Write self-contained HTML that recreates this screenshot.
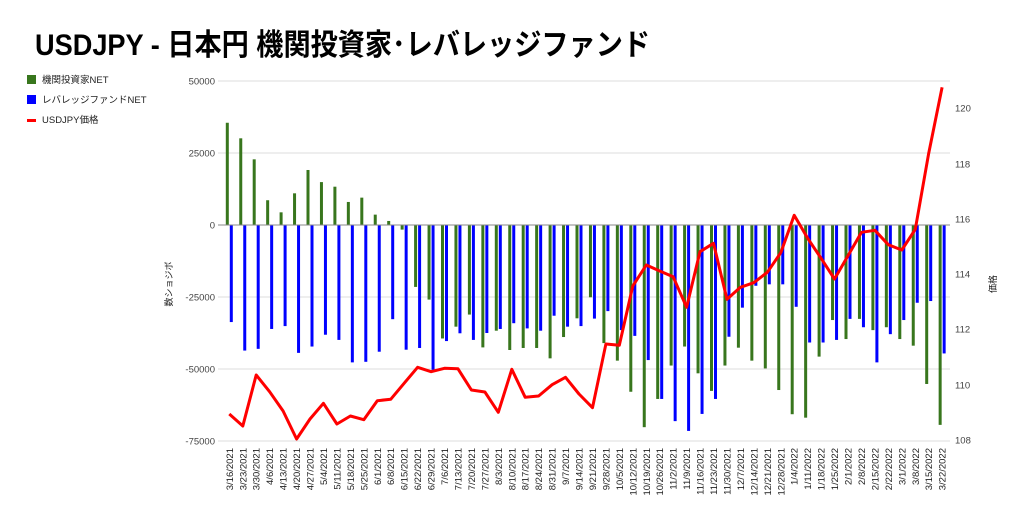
<!DOCTYPE html>
<html><head><meta charset="utf-8"><style>
html,body{margin:0;padding:0;background:#fff;}
svg{display:block;}
text{font-family:"Liberation Sans","Noto Sans CJK JP",sans-serif;}
</style></head><body>
<svg id="c" width="1024" height="521" viewBox="0 0 1024 521" xmlns="http://www.w3.org/2000/svg">
<rect width="1024" height="521" fill="#fff"/>
<text x="35" y="55" font-size="30" font-weight="bold" fill="#000" textLength="615" lengthAdjust="spacingAndGlyphs">USDJPY - 日本円 機関投資家･レバレッジファンド</text>
<rect x="27" y="75" width="9" height="9" fill="#38761d"/>
<text x="42" y="83" font-size="9.5" fill="#222">機関投資家NET</text>
<rect x="27" y="95" width="9" height="9" fill="#0000ff"/>
<text x="42" y="103" font-size="9.5" fill="#222">レバレッジファンドNET</text>
<rect x="27" y="119" width="9" height="3" fill="#ff0000"/>
<text x="42" y="123" font-size="9.5" fill="#222">USDJPY価格</text>
<g id="grid"></g>
<g id="bars"></g>
<line x1="218" y1="225" x2="950" y2="225" stroke="#888" stroke-width="1"/>
<polyline id="red" fill="none" stroke="#ff0000" stroke-width="3" stroke-linejoin="round"/>
<g id="xl" font-size="9.5" fill="#222"></g>
<text transform="translate(172,284) rotate(-90)" text-anchor="middle" font-size="9" fill="#222">数ショジボ</text>
<text transform="translate(996,284) rotate(-90)" text-anchor="middle" font-size="9" fill="#222">価格</text>
</svg>
<script>
var NS="http://www.w3.org/2000/svg";
function el(p,t,a,txt){var e=document.createElementNS(NS,t);for(var k in a)e.setAttribute(k,a[k]);if(txt!=null)e.textContent=txt;document.getElementById(p).appendChild(e);return e;}
var gl=[[81,"50000"],[153,"25000"],[225,"0"],[297,"-25000"],[369,"-50000"],[441,"-75000"]];
gl.forEach(function(g){if(g[1]!="0")el("grid","line",{x1:218,x2:950,y1:g[0],y2:g[0],stroke:"#ddd","stroke-width":1});
el("grid","text",{x:215,y:g[0]+3.5,"text-anchor":"end","font-size":"9.5",fill:"#444"},g[1]);});
var rl=[[108,"120"],[164,"118"],[219,"116"],[274,"114"],[329,"112"],[385,"110"],[440,"108"]];
rl.forEach(function(g){el("grid","text",{x:955,y:g[0]+3.5,"font-size":"9.5",fill:"#444"},g[1]);});
var G=[35500,30100,22800,8600,4400,11000,19100,14900,13300,8000,9500,3600,1400,-1600,-21500,-25900,-39400,-35300,-31100,-42500,-36700,-43400,-42700,-42700,-46300,-38900,-32400,-25100,-41000,-47100,-57900,-70200,-60400,-48800,-42200,-51500,-57600,-48800,-42600,-47100,-49800,-57300,-65700,-66900,-45700,-33000,-39600,-32600,-36500,-35500,-39600,-41900,-55200,-69400];
var B=[-33700,-43600,-43000,-36100,-35100,-44400,-42200,-38100,-39900,-47700,-47500,-44000,-32700,-43300,-42700,-50300,-40300,-37600,-39900,-37500,-36100,-34100,-35900,-36700,-31500,-35300,-35100,-32500,-29900,-36500,-38500,-46900,-60400,-68100,-71500,-65600,-60400,-38800,-28700,-21100,-20600,-20600,-28400,-40800,-40800,-39900,-32600,-35500,-47700,-37900,-33000,-27000,-26400,-44600];
var R=[414,426,375,391.7,411,439,419,403.3,424,416,419.7,400.7,399.3,383.3,367.3,371.7,368.3,368.7,390,392,412.3,369.3,397.3,396,384.7,377.3,394,407.7,344,345.3,286,265,271,276.7,307.3,251.7,243.3,299.3,287.3,282.7,272.3,252.7,215.3,238.3,258.3,279,255.7,232.3,230.3,244.7,250,229.3,153.3,87.3];
function vy(v){return 225-v*72/25000;}
var pts=[];
var d0=new Date(2021,2,16);
for(var i=0;i<54;i++){
 var gx=227.3+i*13.45;
 var y=vy(G[i]);el("bars","rect",{x:gx-1.5,y:Math.min(y,225),width:3,height:Math.abs(y-225),fill:"#38761d"});
 y=vy(B[i]);el("bars","rect",{x:gx+2.5,y:Math.min(y,225),width:3,height:Math.abs(y-225),fill:"#0000ff"});
 var cx=gx+2;pts.push(cx.toFixed(1)+","+R[i]);
 var d=new Date(d0.getTime()+i*7*86400000+3600000*12);
 var s=(d.getMonth()+1)+"/"+d.getDate()+"/"+d.getFullYear();
 el("xl","text",{transform:"translate("+(cx+3.5)+",448) rotate(-90)","text-anchor":"end"},s);
}
document.getElementById("red").setAttribute("points",pts.join(" "));
</script>
</body></html>
